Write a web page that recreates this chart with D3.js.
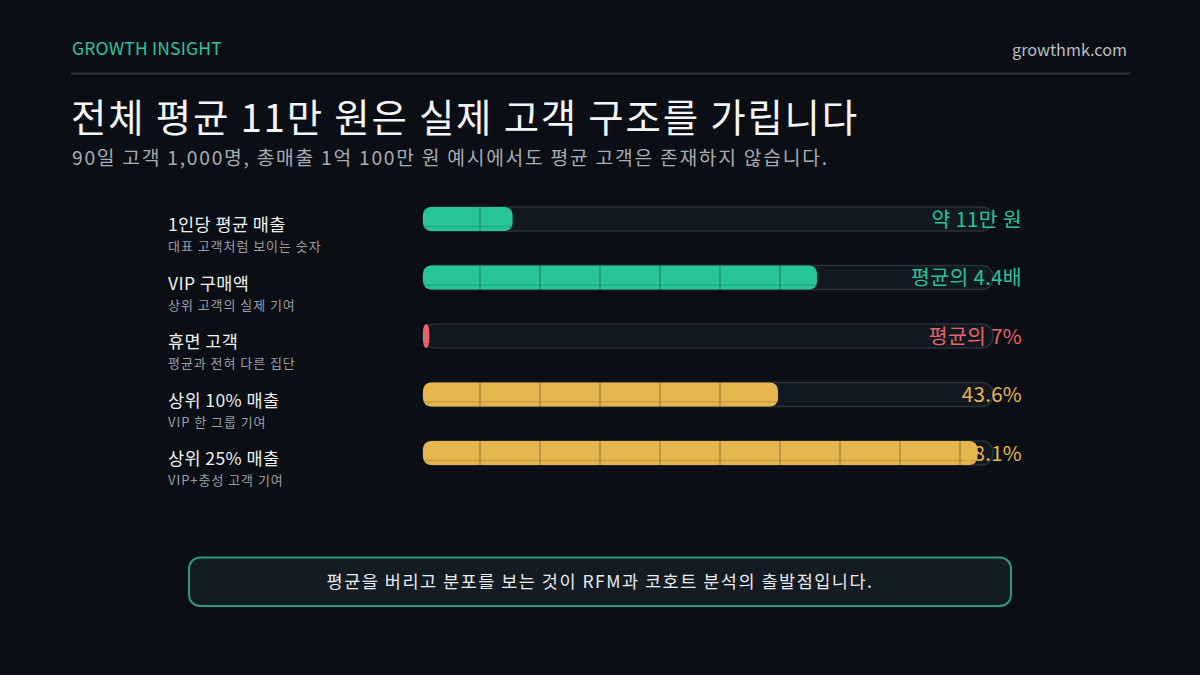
<!DOCTYPE html>
<html>
<head>
<meta charset="utf-8">
<script src="https://cdn.jsdelivr.net/npm/d3@7"></script>
<style>
  html, body { margin: 0; padding: 0; background: #0b0e14; }
  svg { display: block; font-family: "Noto Sans CJK KR", "Noto Sans", sans-serif; }
</style>
</head>
<body>
<div id="chart"></div>
<script>
// row labels
var labels = ["1인당 평균 매출", "VIP 구매액", "휴면 고객", "상위 10% 매출", "상위 25% 매출"];
var subLabels = ["대표 고객처럼 보이는 숫자", "상위 고객의 실제 기여", "평균과 전혀 다른 집단", "VIP 한 그룹 기여", "VIP+충성 고객 기여"];
// bar lengths on a shared 0-70 scale (만 원 for first three, % for last two)
var values = [11, 48.4, 0.77, 43.6, 68.1];
var valueText = ["약 11만 원", "평균의 4.4배", "평균의 7%", "43.6%", "68.1%"];
var groups = ["teal", "teal", "red", "gold", "gold"];

const W = 1200, H = 675;
const colors = { teal: "#27c39a", red: "#e4646a", gold: "#e6b64e" };

var svg = d3.select("#chart").append("svg")
    .attr("width", W)
    .attr("height", H);

svg.append("rect").attr("width", W).attr("height", H).attr("fill", "#0b0e14");

// faint background stripes
svg.append("g").selectAll("line")
    .data(d3.range(0, W, 60))
    .enter().append("line")
    .attr("x1", d => d).attr("x2", d => d)
    .attr("y1", 0).attr("y2", H)
    .attr("stroke", "#ffffff").attr("stroke-opacity", 0.012);

// header
svg.append("text").attr("x", 72).attr("y", 55)
    .attr("font-size", 17.5).attr("fill", "#30c29c").attr("letter-spacing", 0.2)
    .text("GROWTH INSIGHT");
svg.append("text").attr("x", 1127).attr("y", 56).attr("text-anchor", "end")
    .attr("font-size", 16.2).attr("fill", "#b9bdc5")
    .text("growthmk.com");
svg.append("line").attr("x1", 71).attr("x2", 1130).attr("y1", 73.5).attr("y2", 73.5)
    .attr("stroke", "#2d3139").attr("stroke-width", 2);

svg.append("text").attr("x", 71).attr("y", 131.5)
    .attr("font-size", 38.5).attr("fill", "#f4f5f7").attr("letter-spacing", 1.75)
    .text("전체 평균 11만 원은 실제 고객 구조를 가립니다");
svg.append("text").attr("x", 72).attr("y", 164.5)
    .attr("font-size", 19.3).attr("fill", "#a7abb3").attr("letter-spacing", 1.72)
    .text("90일 고객 1,000명, 총매출 1억 100만 원 예시에서도 평균 고객은 존재하지 않습니다.");

// scales
var x = d3.scaleLinear().domain([0, 70]).range([423, 993]);
var y = d3.scalePoint().domain(labels).range([219, 453]);
const barH = 24;

var rows = svg.append("g").selectAll("g")
    .data(labels.map((d, i) => ({ label: d, sub: subLabels[i], value: values[i], text: valueText[i], group: groups[i], i: i })))
    .enter().append("g")
    .attr("transform", d => "translate(0," + y(d.label) + ")");

rows.append("text").attr("x", 168).attr("y", 12)
    .attr("font-size", 17.5).attr("fill", "#eef0f2").attr("letter-spacing", 0.4)
    .text(d => d.label);
rows.append("text").attr("x", 168).attr("y", 32)
    .attr("font-size", 13).attr("fill", "#9a9ea6").attr("letter-spacing", 0.95)
    .text(d => d.sub);

// track
rows.append("rect")
    .attr("x", x(0)).attr("y", -barH / 2)
    .attr("width", x(70) - x(0)).attr("height", barH)
    .attr("rx", 11)
    .attr("fill", "#111820").attr("stroke", "#29313a").attr("stroke-width", 1.5);

// clip per bar
var defs = svg.append("defs");
defs.selectAll("clipPath")
    .data(values)
    .enter().append("clipPath")
    .attr("id", (d, i) => "clip" + i)
    .append("rect")
    .attr("x", x(0)).attr("y", -barH / 2)
    .attr("width", d => x(d) - x(0)).attr("height", barH)
    .attr("rx", d => Math.min(8, (x(d) - x(0)) / 2)).attr("ry", 8);

rows.append("rect")
    .attr("x", x(0)).attr("y", -barH / 2)
    .attr("width", d => x(d.value) - x(0)).attr("height", barH)
    .attr("rx", d => Math.min(8, (x(d.value) - x(0)) / 2)).attr("ry", 8)
    .attr("fill", d => colors[d.group]);

var inner = rows.append("g").attr("clip-path", d => "url(#clip" + d.i + ")");
inner.append("line")
    .attr("x1", x(0)).attr("x2", x(70))
    .attr("y1", 7.5).attr("y2", 7.5)
    .attr("stroke", "#000").attr("stroke-opacity", 0.12).attr("stroke-width", 1.5);

// vertical segment lines every 60px
var gridX = d3.range(480, 993, 60);
rows.each(function(d) {
    d3.select(this).append("g").selectAll("line")
        .data(gridX.filter(g => g < x(d.value)))
        .enter().append("line")
        .attr("x1", g => g).attr("x2", g => g)
        .attr("y1", -barH / 2).attr("y2", barH / 2 + 1)
        .attr("stroke", "#000").attr("stroke-opacity", 0.28).attr("stroke-width", 1.3);
});

rows.append("text")
    .attr("x", 1022).attr("y", 7.5)
    .attr("text-anchor", "end")
    .attr("font-size", 20.5).attr("letter-spacing", 0.3)
    .attr("fill", d => colors[d.group])
    .text(d => d.text);

// takeaway box
svg.append("rect")
    .attr("x", 189).attr("y", 557.5).attr("width", 822).attr("height", 48.5)
    .attr("rx", 11)
    .attr("fill", "#131b23").attr("stroke", "#2a9a7c").attr("stroke-width", 2);
svg.append("text").attr("x", 600).attr("y", 588)
    .attr("text-anchor", "middle")
    .attr("font-size", 17.5).attr("fill", "#e9ebee").attr("letter-spacing", 1.5)
    .text("평균을 버리고 분포를 보는 것이 RFM과 코호트 분석의 출발점입니다.");
</script>
</body>
</html>
